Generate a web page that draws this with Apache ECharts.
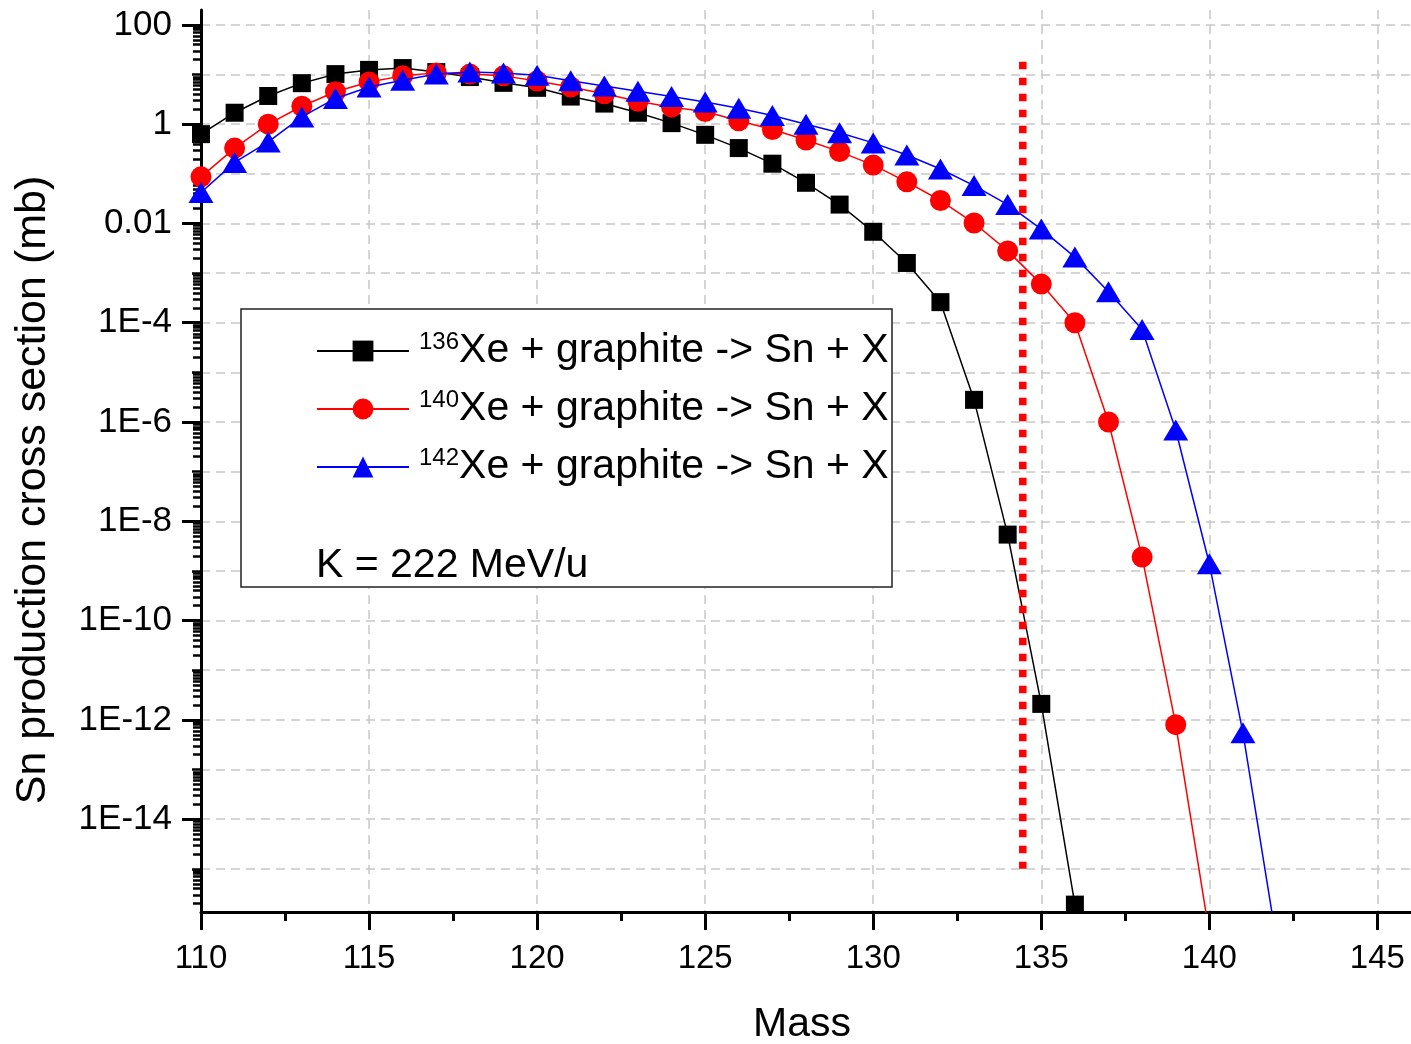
<!DOCTYPE html>
<html>
<head>
<meta charset="utf-8">
<script src="https://cdn.jsdelivr.net/npm/echarts@6/dist/echarts.min.js"></script>
<style>
  html, body { margin: 0; padding: 0; background: #fff; }
  #chart { width: 1411px; height: 1044px; }
</style>
</head>
<body>
<div id="chart"></div>
<script>
// Sn production cross sections
const isotopes = ['136', '140', '142'];
const reactionText = 'Xe + graphite -> Sn + X';
const seriesColors = ['#000000', '#ff0000', '#0000ff'];
const seriesSymbols = ['rect', 'circle', 'triangle'];

const mass136 = [110, 111, 112, 113, 114, 115, 116, 117, 118, 119, 120, 121, 122, 123,
  124, 125, 126, 127, 128, 129, 130, 131, 132, 133, 134, 135, 136];
const sigma136 = [0.63, 1.7, 3.7, 6.7, 10.2, 12.4, 13.5, 11.2, 8.9, 6.8, 5.4, 3.6, 2.6, 1.7,
  1.05, 0.61, 0.33, 0.16, 0.066, 0.024, 0.0068, 0.0016, 2.6e-4, 2.8e-6, 5.4e-9, 2.1e-12, 1.9e-16];

const mass140 = [110, 111, 112, 113, 114, 115, 116, 117, 118, 119, 120, 121, 122, 123,
  124, 125, 126, 127, 128, 129, 130, 131, 132, 133, 134, 135, 136, 137, 138, 139, 140];
const sigma140 = [0.087, 0.33, 1.0, 2.3, 4.5, 7.1, 9.4, 10.8, 10.2, 9.4, 7.4, 5.6, 4.1, 2.9,
  2.2, 1.8, 1.17, 0.78, 0.48, 0.28, 0.15, 0.069, 0.029, 0.0102, 0.0028, 6e-4, 1e-4, 1e-6,
  1.9e-9, 8e-13, 5e-17];

const mass142 = [110, 111, 112, 113, 114, 115, 116, 117, 118, 119, 120, 121, 122, 123,
  124, 125, 126, 127, 128, 129, 130, 131, 132, 133, 134, 135, 136, 137, 138, 139, 140, 141, 142];
const sigma142 = [0.042, 0.17, 0.44, 1.4, 3.3, 5.6, 7.7, 10.2, 11.3, 10.7, 9.7, 7.5, 5.9, 4.6,
  3.6, 2.8, 2.1, 1.5, 1.0, 0.67, 0.42, 0.24, 0.125, 0.058, 0.024, 0.0077, 0.0021, 4.2e-4,
  7.3e-5, 6.9e-7, 1.4e-9, 5.5e-13, 3.5e-17];

// red dotted marker line
const cutMass = [134.45, 134.45];
const cutSigma = [18, 1e-15];

// tick labels
const xMajorTicks = [110, 115, 120, 125, 130, 135, 140, 145];
const xMinorTicks = [112.5, 117.5, 122.5, 127.5, 132.5, 137.5, 142.5];
const yLabelExps = [-14, -12, -10, -8, -6, -4, -2, 0, 2];
const yDecadeExps = [-15, -14, -13, -12, -11, -10, -9, -8, -7, -6, -5, -4, -3, -2, -1, 0, 1, 2];

const fontFamily = '"Liberation Sans", Arial, sans-serif';
const yMin = Math.pow(10, -15.87);
const yMax = Math.pow(10, 2.3);

const yLabelValues = yLabelExps.map(e => Number('1e' + e));
const yDecadeValues = yDecadeExps.map(e => Number('1e' + e));
const yMinorValues = [];
for (let e = -16; e <= 2; e++) {
  for (let k = 2; k <= 9; k++) {
    const v = Number(k + 'e' + e);
    if (v > yMin && v < yMax) yMinorValues.push(v);
  }
}

function yLabel(v) {
  const e = Math.round(Math.log10(v));
  if (e >= 0) return String(Math.pow(10, e));
  if (e === -2) return '0.01';
  return '1E' + e;
}

const masses = [mass136, mass140, mass142];
const sigmas = [sigma136, sigma140, sigma142];
const seriesNames = isotopes.map(iso => iso + reactionText);

const symbolSizes = [18, 21, [25, 21]];

const chart = echarts.init(document.getElementById('chart'));

const hiddenY = (ticks, len, width) => ({
  type: 'log',
  logBase: 10,
  min: yMin,
  max: yMax,
  position: 'left',
  axisLine: { show: false },
  axisLabel: { show: false },
  splitLine: { show: false },
  axisTick: { show: true, inside: false, length: len, customValues: ticks, lineStyle: { color: '#000', width: width } }
});

const option = {
  animation: false,
  backgroundColor: '#fff',
  textStyle: { fontFamily: fontFamily },
  grid: { left: 201, top: 10, right: 0, bottom: 132, containLabel: false, outerBoundsMode: 'none' },
  xAxis: [
    {
      type: 'value',
      min: 110,
      max: 146,
      name: 'Mass',
      nameLocation: 'middle',
      nameGap: 92,
      nameTextStyle: { fontSize: 41, color: '#000', fontFamily: fontFamily, padding: [0, 8, 0, 0] },
      axisLine: { show: true, onZero: false, lineStyle: { color: '#000', width: 3 } },
      axisTick: { show: true, length: 18, customValues: xMajorTicks, lineStyle: { color: '#000', width: 3 } },
      axisLabel: { show: true, customValues: xMajorTicks, margin: 30, fontSize: 33, color: '#000', fontFamily: fontFamily },
      splitLine: { show: true, lineStyle: { color: '#c8c8c8', width: 1.5, type: [9, 6] } }
    },
    {
      type: 'value',
      min: 110,
      max: 146,
      position: 'bottom',
      axisLine: { show: false },
      axisLabel: { show: false },
      splitLine: { show: false },
      axisTick: { show: true, length: 9, customValues: xMinorTicks, lineStyle: { color: '#000', width: 3 } }
    }
  ],
  yAxis: [
    {
      type: 'log',
      logBase: 10,
      min: yMin,
      max: yMax,
      splitNumber: 18,
      name: 'Sn production cross section (mb)',
      nameLocation: 'middle',
      nameGap: 146,
      nameTextStyle: { fontSize: 43, color: '#000', fontFamily: fontFamily, padding: [0, 58, 0, 0] },
      axisLine: { show: true, lineStyle: { color: '#000', width: 3 } },
      axisTick: { show: true, length: 9, customValues: yDecadeValues, lineStyle: { color: '#000', width: 2.5 } },
      axisLabel: { show: true, customValues: yLabelValues, formatter: yLabel, margin: 29, fontSize: 35, color: '#000', fontFamily: fontFamily },
      splitLine: { show: true, lineStyle: { color: '#c8c8c8', width: 1.5, type: [9, 6] } }
    },
    hiddenY(yLabelValues, 19, 3),
    hiddenY(yMinorValues, 8, 2.5)
  ],
  legend: {
    data: seriesNames,
    orient: 'vertical',
    left: 316,
    top: 330,
    padding: 0,
    itemWidth: 92,
    itemHeight: 26,
    itemGap: 16.5,
    selectedMode: false,
    formatter: function (name) {
      const m = name.match(/^(\d+)(.*)$/);
      return '{sup|' + m[1] + '}{main|' + m[2] + '}';
    },
    textStyle: {
      color: '#000',
      fontFamily: fontFamily,
      fontSize: 41,
      rich: {
        sup: { fontSize: 24, verticalAlign: 'top', lineHeight: 16, padding: [0, 0, 0, 5], fontFamily: fontFamily, color: '#000' },
        main: { fontSize: 41, lineHeight: 42, fontFamily: fontFamily, color: '#000' }
      }
    }
  },
  graphic: [
    {
      type: 'rect',
      z: 3,
      shape: { x: 241, y: 309, width: 651, height: 278 },
      style: { fill: '#fff', stroke: '#222', lineWidth: 1.5 }
    },
    {
      type: 'text',
      z: 5,
      x: 316,
      y: 566,
      style: { text: 'K = 222 MeV/u', fontSize: 41, fontFamily: fontFamily, fill: '#000', verticalAlign: 'middle' }
    }
  ],
  series: masses.map((ms, i) => ({
    name: seriesNames[i],
    type: 'line',
    xAxisIndex: 0,
    yAxisIndex: 0,
    data: ms.map((m, j) => [m, sigmas[i][j]]),
    symbol: seriesSymbols[i],
    symbolSize: symbolSizes[i],
    showAllSymbol: true,
    clip: true,
    z: 2 + i,
    itemStyle: { color: seriesColors[i] },
    lineStyle: { color: seriesColors[i], width: 1.5 }
  })).concat([{
    name: 'cut',
    type: 'line',
    xAxisIndex: 0,
    yAxisIndex: 0,
    data: cutMass.map((m, j) => [m, cutSigma[j]]),
    symbol: 'none',
    z: 6,
    lineStyle: { color: '#ff0000', width: 7.5, type: [7.5, 8.5], cap: 'butt' }
  }])
};

chart.setOption(option);
</script>
</body>
</html>
